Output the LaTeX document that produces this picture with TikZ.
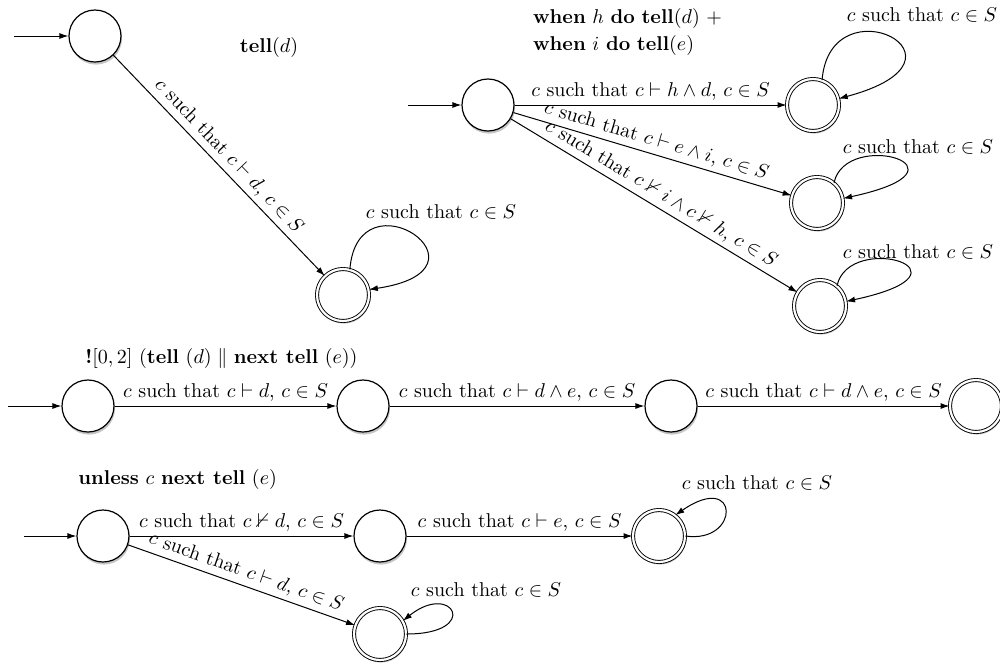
\documentclass[tikz,border=0pt]{standalone}
\usepackage{amssymb}
\usetikzlibrary{arrows.meta,shadows}
\begin{document}
\begin{tikzpicture}[x=0.5pt,y=-0.5pt,
  st/.style={circle,draw,line width=0.6pt,minimum size=26pt,inner sep=0pt,fill=white,
    drop shadow={shadow xshift=0.5pt,shadow yshift=-1.3pt,opacity=0.45}},
  acc/.style={st,double,double distance=1.1pt,line width=0.45pt},
  tr/.style={-{Latex[length=4.5pt,width=3pt]},line width=0.5pt},
  lbl/.style={inner sep=2pt}
]
\useasboundingbox (0,0) rectangle (1000,666);

% ---------- tell(d)
\node[st] (a0) at (95,36) {};
\node[acc] (a1) at (343,295) {};
\coordinate (a0s) at (14,36);
\node (t1) at (269,47) {\textbf{tell}$(d)$};
\draw[tr] (a0s) -- (a0);
\draw[tr] (a0) -- node[lbl,above,sloped] {$c$ such that $c\vdash d$, $c\in S$} (a1);
\draw[tr] (a1.75) .. controls +(8,-100) and +(135,-20) .. (a1.12);
\node (l1) at (441,212) {$c$ such that $c\in S$};

% ---------- when h do ... + when i do ...
\node[align=left,anchor=west] (t2) at (526,32) {\textbf{when} $h$ \textbf{do} \textbf{tell}$(d)$ $+$\\[1.5pt] \textbf{when} $i$ \textbf{do} \textbf{tell}$(e)$};
\node[st] (b0) at (488,105) {};
\node[acc] (b1) at (813,105) {};
\node[acc] (b2) at (817,203) {};
\node[acc] (b3) at (820,306) {};
\coordinate (b0s) at (408,105);
\draw[tr] (b0s) -- (b0);
\draw[tr] (b0) -- node[lbl,above] {$c$ such that $c\vdash h\wedge d$, $c\in S$} (b1);
\draw[tr] (b0) -- node[lbl,above,sloped] {$c$ such that $c\vdash e\wedge i$, $c\in S$} (b2);
\draw[tr] (b0) -- node[lbl,above,sloped] {$c$ such that $c\nvdash i\wedge c\nvdash h$, $c\in S$} (b3);
\draw[tr] (b1.70) .. controls +(8,-100) and +(150,-40) .. (b1.14);
\draw[tr] (b2.50) .. controls +(12,-55) and +(140,-30) .. (b2.10);
\draw[tr] (b3.50) .. controls +(12,-55) and +(140,-30) .. (b3.10);
\node (l2) at (922,15) {$c$ such that $c\in S$};
\node (l3) at (918,147) {$c$ such that $c\in S$};
\node (l4) at (918,252) {$c$ such that $c\in S$};

% ---------- ![0,2] ...
\node[anchor=west,inner sep=0pt] (t3) at (85,358) {\textbf{!}$[0,2]$ $($\textbf{tell} $(d)\parallel$ \textbf{next tell} $(e))$};
\node[st] (c0) at (88,406) {};
\node[st] (c1) at (363,406) {};
\node[st] (c2) at (671,406) {};
\node[acc] (c3) at (976,406) {};
\coordinate (c0s) at (8,406);
\draw[tr] (c0s) -- (c0);
\draw[tr] (c0) -- node[lbl,above] {$c$ such that $c\vdash d$, $c\in S$} (c1);
\draw[tr] (c1) -- node[lbl,above] {$c$ such that $c\vdash d\wedge e$, $c\in S$} (c2);
\draw[tr] (c2) -- node[lbl,above] {$c$ such that $c\vdash d\wedge e$, $c\in S$} (c3);

% ---------- unless c next tell (e)
\node[anchor=west,inner sep=0pt] (t4) at (78,479) {\textbf{unless} $c$ \textbf{next tell} $(e)$};
\node[st] (d0) at (103,536) {};
\node[st] (d1) at (380,536) {};
\node[acc] (d2) at (659,536) {};
\node[acc] (d3) at (380,634) {};
\coordinate (d0s) at (24,536);
\draw[tr] (d0s) -- (d0);
\draw[tr] (d0) -- node[lbl,above] {$c$ such that $c\nvdash d$, $c\in S$} (d1);
\draw[tr] (d1) -- node[lbl,above] {$c$ such that $c\vdash e$, $c\in S$} (d2);
\draw[tr] (d0) -- node[lbl,above,sloped] {$c$ such that $c\vdash d$, $c\in S$} (d3);
\draw[tr] (d2.0) .. controls +(55,8) and +(65,-45) .. (d2.52);
\draw[tr] (d3.0) .. controls +(75,0) and +(50,-40) .. (d3.30);
\node (l5) at (757,483) {$c$ such that $c\in S$};
\node (l6) at (486,590) {$c$ such that $c\in S$};
\end{tikzpicture}
\end{document}
